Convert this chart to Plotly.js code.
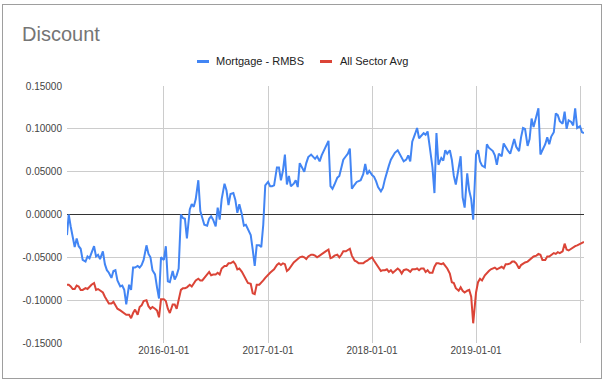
<!DOCTYPE html>
<html><head><meta charset="utf-8">
<script src="https://cdn.plot.ly/plotly-3.0.1.min.js"></script>
<style>
html,body{margin:0;padding:0;background:#fff;}
#chart{position:absolute;left:0;top:0;width:606px;height:381px;}
#frame{position:absolute;left:2px;top:4px;width:600px;height:375px;border:1px solid #9e9e9e;box-sizing:border-box;pointer-events:none;}
</style>
</head><body>
<div id="chart"></div><div id="frame"></div>
<script>
const dates = [
'2015-01-26',
'2015-02-01','2015-02-08','2015-02-15','2015-02-22',
'2015-03-01','2015-03-08','2015-03-15','2015-03-22',
'2015-04-01','2015-04-08','2015-04-15','2015-04-22',
'2015-05-01','2015-05-08','2015-05-15','2015-05-22',
'2015-06-01','2015-06-08','2015-06-15','2015-06-22',
'2015-07-01','2015-07-08','2015-07-15','2015-07-22',
'2015-08-01','2015-08-08','2015-08-15','2015-08-22',
'2015-09-01','2015-09-08','2015-09-15','2015-09-22',
'2015-10-01','2015-10-08','2015-10-15','2015-10-22',
'2015-11-01','2015-11-08','2015-11-15','2015-11-22',
'2015-12-01','2015-12-08','2015-12-15','2015-12-22',
'2016-01-01','2016-01-08','2016-01-15','2016-01-22',
'2016-02-01','2016-02-08','2016-02-15','2016-02-22',
'2016-03-01','2016-03-08','2016-03-15','2016-03-22',
'2016-04-01','2016-04-08','2016-04-15','2016-04-22',
'2016-05-01','2016-05-08','2016-05-15','2016-05-22',
'2016-06-01','2016-06-08','2016-06-15','2016-06-22',
'2016-07-01','2016-07-08','2016-07-15','2016-07-22',
'2016-08-01','2016-08-08','2016-08-15','2016-08-22',
'2016-09-01','2016-09-08','2016-09-15','2016-09-22',
'2016-10-01','2016-10-08','2016-10-15','2016-10-22',
'2016-11-01','2016-11-08','2016-11-15','2016-11-22',
'2016-12-01','2016-12-08','2016-12-15','2016-12-22',
'2017-01-01','2017-01-08','2017-01-15','2017-01-22',
'2017-02-01','2017-02-08','2017-02-15','2017-02-22',
'2017-03-01','2017-03-08','2017-03-15','2017-03-22',
'2017-04-01','2017-04-08','2017-04-15','2017-04-22',
'2017-05-01','2017-05-08','2017-05-15','2017-05-22',
'2017-06-01','2017-06-08','2017-06-15','2017-06-22',
'2017-07-01','2017-07-08','2017-07-15','2017-07-22',
'2017-08-01','2017-08-08','2017-08-15','2017-08-22',
'2017-09-01','2017-09-08','2017-09-15','2017-09-22',
'2017-10-01','2017-10-08','2017-10-15','2017-10-22',
'2017-11-01','2017-11-08','2017-11-15','2017-11-22',
'2017-12-01','2017-12-08','2017-12-15','2017-12-22',
'2018-01-01','2018-01-08','2018-01-15','2018-01-22',
'2018-02-01','2018-02-08','2018-02-15','2018-02-22',
'2018-03-01','2018-03-08','2018-03-15','2018-03-22',
'2018-04-01','2018-04-08','2018-04-15','2018-04-22',
'2018-05-01','2018-05-08','2018-05-15','2018-05-22',
'2018-06-01','2018-06-08','2018-06-15','2018-06-22',
'2018-07-01','2018-07-08','2018-07-15','2018-07-22',
'2018-08-01','2018-08-08','2018-08-15','2018-08-22',
'2018-09-01','2018-09-08','2018-09-15','2018-09-22',
'2018-10-01','2018-10-08','2018-10-15','2018-10-22',
'2018-11-01','2018-11-08','2018-11-15','2018-11-22',
'2018-12-01','2018-12-08','2018-12-15','2018-12-22',
'2019-01-01','2019-01-08','2019-01-15','2019-01-22',
'2019-02-01','2019-02-08','2019-02-15','2019-02-22',
'2019-03-01','2019-03-08','2019-03-15','2019-03-22',
'2019-04-01','2019-04-08','2019-04-15','2019-04-22',
'2019-05-01','2019-05-08','2019-05-15','2019-05-22',
'2019-06-01','2019-06-08','2019-06-15','2019-06-22',
'2019-07-01','2019-07-08','2019-07-15','2019-07-22',
'2019-08-01','2019-08-08','2019-08-15','2019-08-22',
'2019-09-01','2019-09-08','2019-09-15','2019-09-22',
'2019-10-01','2019-10-08','2019-10-15','2019-10-22',
'2019-11-01','2019-11-08','2019-11-15','2019-11-22',
'2019-12-01','2019-12-08','2019-12-15','2019-12-22',
'2020-01-01','2020-01-08','2020-01-15'
];

const mortgageRMBS = [
-0.024,
0.000,-0.014,-0.028,-0.038,
-0.028,-0.037,-0.040,-0.053,
-0.055,-0.049,-0.051,-0.044,
-0.037,-0.049,-0.047,-0.052,
-0.043,-0.058,-0.065,-0.068,
-0.074,-0.066,-0.065,-0.077,
-0.084,-0.083,-0.088,-0.105,
-0.082,-0.088,-0.062,-0.062,
-0.060,-0.062,-0.059,-0.053,
-0.036,-0.046,-0.050,-0.065,
-0.070,-0.085,-0.098,-0.050,
-0.053,-0.037,-0.078,-0.079,
-0.066,-0.076,-0.071,-0.063,
0.000,-0.004,-0.005,-0.028,
0.006,0.012,0.009,0.018,
0.040,0.004,-0.004,-0.012,
-0.013,-0.005,-0.002,-0.006,
-0.014,0.008,-0.006,0.018,
0.036,0.028,0.011,0.024,
0.025,0.017,0.002,0.012,
0.000,-0.013,-0.012,-0.017,
-0.024,-0.041,-0.060,-0.036,
-0.036,-0.038,-0.012,0.034,
0.038,0.033,0.033,0.034,
0.055,0.055,0.040,0.051,
0.070,0.035,0.045,0.033,
0.036,0.040,0.032,0.060,
0.055,0.050,0.060,0.067,
0.070,0.068,0.065,0.068,
0.062,0.069,0.074,0.078,
0.086,0.033,0.030,0.035,
0.043,0.045,0.056,0.064,
0.068,0.071,0.077,0.030,
0.035,0.038,0.039,0.040,
0.047,0.059,0.047,0.051,
0.046,0.044,0.039,0.032,
0.027,0.031,0.041,0.050,
0.057,0.064,0.068,0.072,
0.075,0.070,0.066,0.062,
0.064,0.069,0.062,0.085,
0.094,0.101,0.089,0.092,
0.095,0.093,0.097,0.080,
0.055,0.025,0.095,0.058,
0.066,0.063,0.075,0.071,
0.075,0.064,0.045,0.035,
0.056,0.068,0.020,0.008,
0.048,0.028,0.018,-0.006,
0.070,0.075,0.062,0.057,
0.055,0.082,0.078,0.076,
0.074,0.069,0.058,0.071,
0.068,0.083,0.078,0.075,
0.071,0.079,0.088,0.079,
0.074,0.090,0.101,0.100,
0.080,0.088,0.112,0.102,
0.115,0.124,0.070,0.075,
0.082,0.090,0.082,0.091,
0.096,0.118,0.116,0.109,
0.106,0.120,0.100,0.110,
0.108,0.104,0.124,0.101,
0.103,0.096,0.095
];

const allSectorAvg = [
-0.082,
-0.082,-0.084,-0.087,-0.087,
-0.083,-0.084,-0.088,-0.088,
-0.086,-0.087,-0.084,-0.082,
-0.080,-0.088,-0.087,-0.089,
-0.091,-0.096,-0.101,-0.104,
-0.104,-0.102,-0.106,-0.110,
-0.112,-0.114,-0.115,-0.117,
-0.117,-0.121,-0.115,-0.111,
-0.117,-0.108,-0.106,-0.101,
-0.100,-0.107,-0.110,-0.108,
-0.110,-0.112,-0.120,-0.099,
-0.099,-0.101,-0.110,-0.115,
-0.105,-0.105,-0.110,-0.100,
-0.088,-0.086,-0.086,-0.085,
-0.082,-0.084,-0.080,-0.077,
-0.075,-0.077,-0.077,-0.074,
-0.070,-0.067,-0.071,-0.070,
-0.070,-0.068,-0.070,-0.063,
-0.060,-0.060,-0.057,-0.057,
-0.055,-0.058,-0.064,-0.063,
-0.067,-0.071,-0.076,-0.080,
-0.081,-0.092,-0.093,-0.082,
-0.082,-0.080,-0.077,-0.074,
-0.070,-0.068,-0.066,-0.064,
-0.059,-0.057,-0.059,-0.057,
-0.058,-0.066,-0.064,-0.060,
-0.056,-0.054,-0.052,-0.050,
-0.049,-0.050,-0.052,-0.049,
-0.047,-0.047,-0.048,-0.050,
-0.048,-0.046,-0.045,-0.043,
-0.041,-0.051,-0.050,-0.048,
-0.047,-0.050,-0.047,-0.043,
-0.043,-0.041,-0.040,-0.048,
-0.054,-0.055,-0.057,-0.057,
-0.057,-0.055,-0.054,-0.052,
-0.050,-0.054,-0.058,-0.062,
-0.066,-0.065,-0.065,-0.064,
-0.067,-0.065,-0.068,-0.066,
-0.063,-0.065,-0.069,-0.065,
-0.064,-0.065,-0.067,-0.064,
-0.064,-0.063,-0.065,-0.063,
-0.063,-0.067,-0.065,-0.068,
-0.068,-0.061,-0.057,-0.057,
-0.058,-0.057,-0.060,-0.063,
-0.069,-0.079,-0.080,-0.086,
-0.089,-0.085,-0.089,-0.091,
-0.089,-0.088,-0.096,-0.127,
-0.091,-0.079,-0.075,-0.077,
-0.071,-0.068,-0.066,-0.064,
-0.063,-0.062,-0.064,-0.063,
-0.061,-0.063,-0.058,-0.058,
-0.057,-0.055,-0.055,-0.057,
-0.063,-0.059,-0.057,-0.056,
-0.055,-0.053,-0.051,-0.049,
-0.048,-0.046,-0.047,-0.053,
-0.053,-0.049,-0.049,-0.047,
-0.045,-0.046,-0.044,-0.045,
-0.043,-0.034,-0.041,-0.042,
-0.040,-0.038,-0.037,-0.036,
-0.034,-0.033,-0.032
];

const seriesNames = ['Mortgage - RMBS', 'All Sector Avg'];
const seriesColors = ['#4285f4', '#db4437'];
const yTickVals = [-0.15, -0.10, -0.05, 0, 0.05, 0.10, 0.15];
const yTickText = ['-0.15000', '-0.10000', '-0.05000', '0.00000', '0.05000', '0.10000', '0.15000'];
const xTickVals = ['2016-01-01', '2017-01-01', '2018-01-01', '2019-01-01', '2020-01-01'];
const xTickText = ['2016-01-01', '2017-01-01', '2018-01-01', '2019-01-01', ''];

const W = 606, H = 381;
const L = 67, R = 22, T = 86, B = 38;
const pw = W - L - R, ph = H - T - B;
const px = v => (v - L) / pw;
const py = v => (H - B - v) / ph;

const traces = [
  {x: dates, y: mortgageRMBS, name: seriesNames[0], type: 'scatter', mode: 'lines',
   line: {color: seriesColors[0], width: 2}},
  {x: dates, y: allSectorAvg, name: seriesNames[1], type: 'scatter', mode: 'lines',
   line: {color: seriesColors[1], width: 2}}
];

const layout = {
  width: W, height: H,
  margin: {l: L, r: R, t: T, b: B, pad: 0},
  paper_bgcolor: '#ffffff', plot_bgcolor: '#ffffff',
  font: {family: 'Arial, "Liberation Sans", sans-serif', size: 10, color: '#444'},
  showlegend: false,
  title: {text: 'Discount', x: 22 / W, xanchor: 'left', xref: 'container',
          y: 1 - 34 / H, yanchor: 'middle', yref: 'container',
          font: {family: 'Arial, "Liberation Sans", sans-serif', size: 20, color: '#757575'}},
  xaxis: {type: 'date', range: ['2015-01-26', '2020-01-15'],
          tickmode: 'array', tickvals: xTickVals, ticktext: xTickText,
          showgrid: true, gridcolor: '#cccccc', gridwidth: 1,
          zeroline: false, showline: false, ticks: '',
          tickfont: {size: 10, color: '#444'}},
  yaxis: {range: [-0.15, 0.15], tickmode: 'array', tickvals: yTickVals, ticktext: yTickText,
          showgrid: true, gridcolor: '#cccccc', gridwidth: 1,
          zeroline: true, zerolinecolor: '#333333', zerolinewidth: 1,
          showline: false, ticks: '', ticklabelstandoff: 4,
          tickfont: {size: 10, color: '#444'}},
  shapes: [
    {type: 'rect', xref: 'paper', yref: 'paper', x0: px(197), x1: px(209), y0: py(63), y1: py(60),
     fillcolor: seriesColors[0], line: {width: 0}},
    {type: 'rect', xref: 'paper', yref: 'paper', x0: px(320), x1: px(332), y0: py(63), y1: py(60),
     fillcolor: seriesColors[1], line: {width: 0}}
  ],
  annotations: [
    {xref: 'paper', yref: 'paper', x: px(214), y: py(61.5), xanchor: 'left', yanchor: 'middle',
     text: seriesNames[0], showarrow: false, font: {size: 11, color: '#222'}},
    {xref: 'paper', yref: 'paper', x: px(338), y: py(61.5), xanchor: 'left', yanchor: 'middle',
     text: seriesNames[1], showarrow: false, font: {size: 11, color: '#222'}}
  ]
};

Plotly.newPlot('chart', traces, layout, {staticPlot: true, displayModeBar: false});
</script>
</body></html>
